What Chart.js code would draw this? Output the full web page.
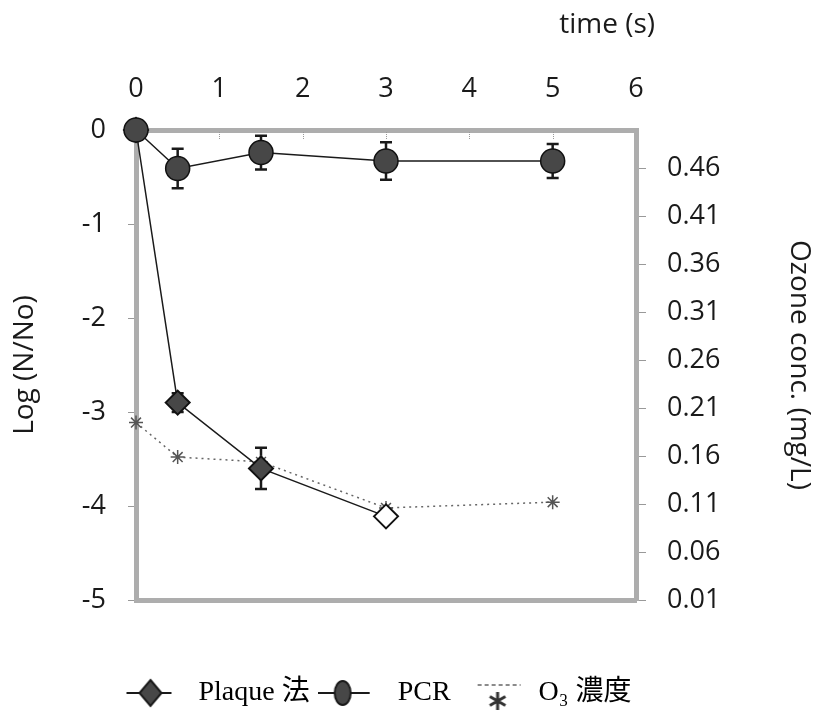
<!DOCTYPE html>
<html>
<head>
<meta charset="utf-8">
<script src="https://cdn.jsdelivr.net/npm/chart.js@4.4.1/dist/chart.umd.min.js"></script>
<style>
  html, body { margin: 0; padding: 0; background: #fff; }
</style>
</head>
<body>
<canvas id="c" width="816" height="721"></canvas>
<script>
// data
const times = [0, 0.5, 1.5, 3, 5];
const plaqueTimes = [0, 0.5, 1.5, 3];
const pcrLog = [0, -0.41, -0.24, -0.33, -0.33];
const pcrErr = [0, 0.21, 0.18, 0.20, 0.18];
const plaqueLog = [0, -2.90, -3.60, -4.11];
const plaqueErr = [0, 0.10, 0.22, 0];
const o3Conc = [0.195, 0.159, 0.154, 0.106, 0.112];
const xTicks = [0, 1, 2, 3, 4, 5, 6];
const logTicks = [0, -1, -2, -3, -4, -5];
const o3Ticks = [0.01, 0.06, 0.11, 0.16, 0.21, 0.26, 0.31, 0.36, 0.41, 0.46];
const legendNames = ['Plaque 法', 'PCR', 'O₃ 濃度'];
const timeTitle = 'time (s)';

// where the plot frame should sit
const AREA = { left: 136, top: 130, right: 636, bottom: 600 };
const W = 816, H = 721;
const PAD_R = 66; // pulls the centred legend left, like the original

const FRAME = '#adadad';
const MARK = '#474747';
const INK = '#1a1a1a';
const sans = "'Open Sans', sans-serif";
const serif = "'Liberation Serif', 'Noto Sans CJK JP', serif";

Chart.defaults.font.family = sans;
Chart.defaults.font.size = 27;
Chart.defaults.color = INK;

const ICON_W = 66;
function legendIcon(kind) {
  const c = document.createElement('canvas');
  c.width = ICON_W; c.height = 44;
  const g = c.getContext('2d');
  g.strokeStyle = INK;
  g.lineWidth = 2;
  if (kind === 'o3') {
    g.strokeStyle = '#666';
    g.lineWidth = 1.5;
    g.setLineDash([4, 3]);
    g.beginPath(); g.moveTo(19, 14); g.lineTo(62, 14); g.stroke();
    g.setLineDash([]);
    g.strokeStyle = '#333';
    g.lineWidth = 3;
    const cx = 39, cy = 30, r = 9;
    g.beginPath();
    for (let k = 0; k < 3; k++) {
      const a = Math.PI / 2 + k * Math.PI / 3;
      g.moveTo(cx - r * Math.cos(a), cy - r * Math.sin(a));
      g.lineTo(cx + r * Math.cos(a), cy + r * Math.sin(a));
    }
    g.stroke();
    return c;
  }
  g.fillStyle = MARK;
  if (kind === 'plaque') {
    g.beginPath(); g.moveTo(8, 22); g.lineTo(53, 22); g.stroke();
    g.beginPath();
    g.moveTo(32, 9); g.lineTo(43, 22); g.lineTo(32, 35); g.lineTo(21, 22); g.closePath();
  } else {
    g.beginPath(); g.moveTo(0, 22); g.lineTo(52, 22); g.stroke();
    g.beginPath();
    g.ellipse(25, 22, 8, 12, 0, 0, Math.PI * 2);
  }
  g.fill(); g.stroke();
  return c;
}
const icons = [legendIcon('plaque'), legendIcon('pcr'), legendIcon('o3')];

const errorBars = {
  id: 'errorBars',
  beforeDatasetsDraw(chart) {
    const ctx = chart.ctx;
    chart.data.datasets.forEach((ds, di) => {
      if (!ds.errors) return;
      const meta = chart.getDatasetMeta(di);
      const ys = chart.scales[meta.yAxisID];
      ctx.save();
      ctx.strokeStyle = INK;
      ctx.lineWidth = 2.5;
      meta.data.forEach((pt, i) => {
        const e = ds.errors[i];
        if (!e) return;
        const v = ds.data[i].y;
        const top = ys.getPixelForValue(v + e);
        const bot = ys.getPixelForValue(v - e);
        ctx.beginPath();
        ctx.moveTo(pt.x, top); ctx.lineTo(pt.x, bot);
        ctx.moveTo(pt.x - 6, top); ctx.lineTo(pt.x + 6, top);
        ctx.moveTo(pt.x - 6, bot); ctx.lineTo(pt.x + 6, bot);
        ctx.stroke();
      });
      ctx.restore();
    });
  }
};

// top axis: short inward ticks + title placed past the right end
const topAxisExtras = {
  id: 'topAxisExtras',
  afterDraw(chart) {
    const ctx = chart.ctx;
    const xs = chart.scales.x;
    ctx.save();
    ctx.strokeStyle = '#999';
    ctx.lineWidth = 1;
    ctx.setLineDash([1, 1]);
    xs.ticks.forEach(t => {
      if (t.value === xs.min || t.value === xs.max) return;
      const px = Math.round(xs.getPixelForValue(t.value)) + 0.5;
      ctx.beginPath(); ctx.moveTo(px, xs.bottom + 2); ctx.lineTo(px, xs.bottom + 9); ctx.stroke();
    });
    ctx.setLineDash([]);
    ctx.fillStyle = INK;
    ctx.font = '28px ' + sans;
    ctx.textAlign = 'right';
    ctx.textBaseline = 'middle';
    ctx.fillText(timeTitle, xs.right + 19, 25);
    ctx.restore();
  }
};

const fixedTicks = arr => scale => { scale.ticks = arr.map(v => ({ value: v })); };
const border = { display: true, color: FRAME, width: 5 };

new Chart(document.getElementById('c'), {
  type: 'scatter',
  plugins: [errorBars, topAxisExtras],
  data: {
    datasets: [{
      label: 'PCR',
      data: times.map((t, i) => ({ x: t, y: pcrLog[i] })),
      errors: pcrErr,
      yAxisID: 'y',
      showLine: true,
      borderColor: INK,
      borderWidth: 1.5,
      pointStyle: 'circle',
      pointRadius: 12,
      pointBackgroundColor: MARK,
      pointBorderColor: '#111',
      pointBorderWidth: 1.5,
      clip: false,
      order: 1
    }, {
      label: 'Plaque',
      data: plaqueTimes.map((t, i) => ({ x: t, y: plaqueLog[i] })),
      errors: plaqueErr,
      yAxisID: 'y',
      showLine: true,
      borderColor: INK,
      borderWidth: 1.5,
      pointStyle: 'rectRot',
      pointRadius: 12,
      pointBackgroundColor: plaqueLog.map((_, i) => i === plaqueLog.length - 1 ? '#fff' : MARK),
      pointBorderColor: '#111',
      pointBorderWidth: 2,
      clip: false,
      order: 2
    }, {
      label: 'O3',
      data: times.map((t, i) => ({ x: t, y: o3Conc[i] })),
      yAxisID: 'y2',
      showLine: true,
      borderColor: '#666',
      borderWidth: 1.5,
      borderDash: [2, 4],
      pointStyle: 'star',
      pointRadius: 7,
      pointBorderColor: '#555',
      pointBorderWidth: 1.5,
      clip: false,
      order: 3
    }]
  },
  options: {
    responsive: false,
    animation: false,
    layout: { padding: { bottom: 4, right: PAD_R } },
    plugins: {
      tooltip: { enabled: false },
      legend: {
        position: 'bottom',
        labels: {
          usePointStyle: true,
          pointStyleWidth: ICON_W,
          padding: 8,
          color: '#222',
          font: { family: serif, size: 28 },
          generateLabels: () => legendNames.map((name, i) => ({
            text: name,
            pointStyle: icons[i],
            fillStyle: 'transparent',
            strokeStyle: 'transparent',
            lineWidth: 0,
            hidden: false,
            datasetIndex: i
          }))
        }
      }
    },
    scales: {
      x: {
        type: 'linear',
        position: 'top',
        min: 0, max: 6,
        afterBuildTicks: fixedTicks(xTicks),
        afterFit: s => { s.height = AREA.top; },
        ticks: { padding: 16 },
        grid: { drawOnChartArea: false, tickLength: 8, color: 'transparent' },
        border: border
      },
      x2: {
        type: 'linear',
        position: 'bottom',
        min: 0, max: 6,
        ticks: { display: false },
        grid: { display: false },
        border: border,
        afterFit: s => {
          const lg = s.chart.legend ? s.chart.legend.height : 50;
          s.height = H - AREA.bottom - lg - 4;
        }
      },
      y: {
        type: 'linear',
        position: 'left',
        min: -5, max: 0,
        afterBuildTicks: fixedTicks(logTicks),
        afterFit: s => { s.width = AREA.left; },
        ticks: { padding: 22, callback: v => String(v) },
        grid: { drawOnChartArea: false, tickLength: 8, color: '#999' },
        border: border,
        title: { display: true, text: 'Log (N/No)', font: { size: 28 }, padding: { top: 8, bottom: 0 } }
      },
      y2: {
        type: 'linear',
        position: 'right',
        min: 0.01, max: 0.50,
        afterBuildTicks: fixedTicks(o3Ticks),
        afterFit: s => { s.width = W - PAD_R - AREA.right; },
        ticks: { padding: 21, callback: v => v.toFixed(2) },
        grid: { drawOnChartArea: false, tickLength: 10, color: '#999' },
        border: border,
        title: { display: true, text: 'Ozone conc. (mg/L)', font: { size: 28 }, padding: { top: -PAD_R, bottom: 0 } }
      }
    }
  }
});
</script>
</body>
</html>
